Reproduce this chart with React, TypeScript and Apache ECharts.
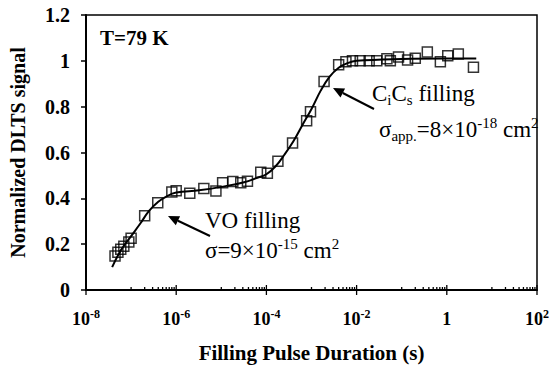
import React, { useEffect, useRef } from "react";
import * as echarts from "echarts";

// Measured data (filling pulse duration in s, normalized DLTS signal)
const durations = [
  4.4e-8, 5.1e-8, 5.9e-8, 6.9e-8, 8.9e-8, 1.0e-7, 2.0e-7, 3.9e-7, 8.0e-7, 1.0e-6,
  2.0e-6, 4.1e-6, 7.6e-6, 1.07e-5, 1.8e-5, 2.7e-5, 3.8e-5, 7.5e-5, 1.05e-4, 1.8e-4,
  3.8e-4, 7.8e-4, 9.5e-4, 1.9e-3, 4.0e-3, 5.8e-3, 8.1e-3, 1.2e-2, 1.9e-2, 2.8e-2,
  4.7e-2, 5.6e-2, 8.5e-2, 0.135, 0.2, 0.37, 0.72, 1.05, 1.8, 3.9,
];
const signal = [
  0.148, 0.165, 0.178, 0.191, 0.209, 0.226, 0.324, 0.381, 0.428, 0.433,
  0.422, 0.443, 0.432, 0.468, 0.473, 0.468, 0.475, 0.514, 0.509, 0.562,
  0.642, 0.739, 0.778, 0.91, 0.983, 0.996, 1.0, 1.0, 1.0, 1.0,
  1.009, 1.0, 1.017, 1.004, 1.011, 1.039, 0.996, 1.022, 1.03, 0.972,
];

// Fitted curve
const fitDurations = [
  3.8e-8, 6e-8, 1e-7, 1.6e-7, 2.5e-7, 4e-7, 6.3e-7, 1e-6, 3.2e-6, 1e-5, 3.2e-5,
  6.3e-5, 1e-4, 1.6e-4, 2.5e-4, 4e-4, 6.3e-4, 1e-3, 1.6e-3, 2.5e-3, 4e-3, 6.3e-3,
  1e-2, 1e-1, 1, 4.5,
];
const fitSignal = [
  0.1, 0.175, 0.235, 0.29, 0.345, 0.385, 0.41, 0.425, 0.435, 0.45, 0.47,
  0.49, 0.505, 0.54, 0.59, 0.65, 0.72, 0.79, 0.87, 0.93, 0.97, 0.99,
  1.0, 1.008, 1.01, 1.01,
];

// Labelled x-axis values (s)
const xTickValues = [1e-8, 1e-6, 1e-4, 1e-2, 1, 1e2];

const FONT = '"Liberation Serif", "Times New Roman", serif';

function arrow(tail: number[], tip: number[]) {
  const dx = tip[0] - tail[0];
  const dy = tip[1] - tail[1];
  const len = Math.sqrt(dx * dx + dy * dy);
  const ux = dx / len;
  const uy = dy / len;
  const hl = 11;
  const hw = 5;
  const bx = tip[0] - ux * hl;
  const by = tip[1] - uy * hl;
  return [
    {
      type: "line",
      shape: { x1: tail[0], y1: tail[1], x2: bx, y2: by },
      style: { stroke: "#000", lineWidth: 2 },
      silent: true,
    },
    {
      type: "polygon",
      shape: {
        points: [
          [tip[0], tip[1]],
          [bx - uy * hw, by + ux * hw],
          [bx + uy * hw, by - ux * hw],
        ],
      },
      style: { fill: "#000" },
      silent: true,
    },
  ];
}

const annRich = {
  n: { fontFamily: FONT, fontSize: 23, lineHeight: 28, fill: "#000", color: "#000" },
  sup: { fontFamily: FONT, fontSize: 15, lineHeight: 15, verticalAlign: "top", fill: "#000", color: "#000" },
  sub: { fontFamily: FONT, fontSize: 15, lineHeight: 15, verticalAlign: "bottom", fill: "#000", color: "#000" },
};

function annText(x: number, y: number, text: string) {
  return {
    type: "text",
    x,
    y,
    silent: true,
    z: 10,
    style: {
      text,
      rich: annRich,
      align: "left",
      verticalAlign: "middle",
      fill: "#000",
    },
  };
}

export default function App() {
  const ref = useRef<HTMLDivElement>(null);

  useEffect(() => {
    const chart = echarts.init(ref.current!, null, { renderer: "svg" });

    const points = durations.map((d, i) => [d, signal[i]]);
    const fit = fitDurations.map((d, i) => [d, fitSignal[i]]);

    // axis tick marks: [value, 0, up length, down length]
    const ticks: number[][] = [];
    for (let i = 0; i < xTickValues.length - 1; i++) {
      for (let k = 1; k <= 9; k++) ticks.push([k * xTickValues[i] * 10, 0, 3, 0]);
    }
    xTickValues.forEach((v) => ticks.push([v, 0, 5, 5]));

    chart.setOption({
      animation: false,
      backgroundColor: "#fff",
      grid: {
        left: 85,
        right: 16,
        top: 15,
        bottom: 78,
        show: true,
        borderColor: "#000",
        borderWidth: 1.5,
        backgroundColor: "transparent",
      },
      xAxis: {
        type: "log",
        logBase: 10,
        min: 1e-8,
        max: 1e2,
        splitLine: { show: false },
        axisLine: { show: true, lineStyle: { color: "#000", width: 2 } },
        axisTick: { show: false },
        axisLabel: {
          margin: 18,
          customValues: xTickValues,
          hideOverlap: false,
          color: "#000",
          formatter: (v: number) => {
            const e = Math.round(Math.log10(v));
            if (e === 0) return "{b|1}";
            return "{b|10}{s|" + e + "}";
          },
          rich: {
            b: { fontFamily: FONT, fontWeight: "bold", fontSize: 18, lineHeight: 22, color: "#000" },
            s: { fontFamily: FONT, fontWeight: "bold", fontSize: 12, lineHeight: 12, verticalAlign: "top", color: "#000" },
          },
        },
        name: "Filling Pulse Duration (s)",
        nameLocation: "middle",
        nameGap: 52,
        nameTextStyle: { fontFamily: FONT, fontWeight: "bold", fontSize: 21, color: "#000" },
      },
      yAxis: {
        type: "value",
        min: 0,
        max: 1.2,
        interval: 0.2,
        splitLine: { show: false },
        axisLine: { show: true, lineStyle: { color: "#000", width: 2 } },
        axisTick: { show: true, inside: false, length: 5, lineStyle: { color: "#000", width: 1.5 } },
        axisLabel: {
          margin: 16,
          color: "#000",
          fontFamily: FONT,
          fontWeight: "bold",
          fontSize: 20,
        },
        name: "Normalized DLTS signal",
        nameLocation: "middle",
        nameGap: 58,
        nameTextStyle: { fontFamily: FONT, fontWeight: "bold", fontSize: 20, color: "#000" },
      },
      series: [
        {
          type: "custom",
          silent: true,
          clip: false,
          data: ticks,
          renderItem: (params: any, api: any) => {
            const p = api.coord([api.value(0), 0]);
            return {
              type: "line",
              shape: { x1: p[0], y1: p[1] + api.value(3), x2: p[0], y2: p[1] - api.value(2) },
              style: { stroke: "#000", lineWidth: 1.3 },
            };
          },
          z: 1,
        },
        {
          type: "line",
          data: fit,
          smooth: 0.4,
          showSymbol: false,
          symbol: "none",
          lineStyle: { color: "#000", width: 2 },
          silent: true,
          z: 2,
        },
        {
          type: "scatter",
          data: points,
          symbol: "rect",
          symbolSize: 10,
          itemStyle: { color: "transparent", borderColor: "#000", borderWidth: 1.5 },
          silent: true,
          z: 3,
        },
      ],
      graphic: [
        {
          type: "text",
          x: 100,
          y: 38,
          silent: true,
          style: {
            text: "T=79 K",
            font: "bold 21px " + FONT,
            fill: "#000",
            align: "left",
            verticalAlign: "middle",
          },
        },
        annText(372, 93, "{n|C}{sub|i}{n|C}{sub|s}{n| filling}"),
        annText(379, 129, "{n|σ}{sub|app.}{n|=8×10}{sup|-18}{n| cm}{sup|2}"),
        annText(205, 220, "{n|VO filling}"),
        annText(205, 250, "{n|σ=9×10}{sup|-15}{n| cm}{sup|2}"),
        ...arrow([374, 109], [333, 88]),
        ...arrow([210, 236], [168, 216]),
      ],
    });

    return () => chart.dispose();
  }, []);

  return (
    <div
      ref={ref}
      style={{ position: "absolute", left: 0, top: 0, width: 553, height: 368, background: "#fff" }}
    />
  );
}
